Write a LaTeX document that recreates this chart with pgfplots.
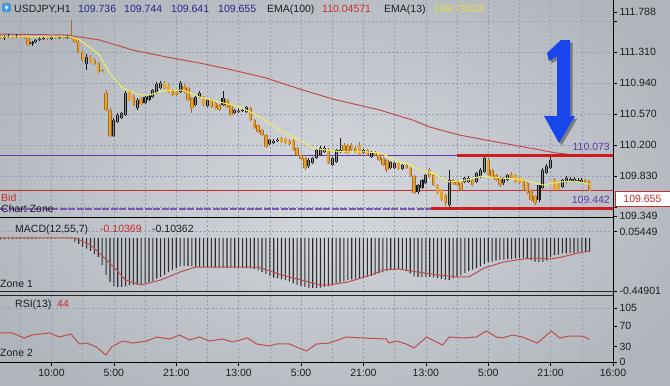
\documentclass[border=0pt]{standalone}
\usepackage{pgfplots}
\pgfplotsset{compat=1.18}
\usepackage{pgfplotstable}
\usepackage{fontspec}
\setmainfont{Liberation Sans}
\definecolor{bgin}{RGB}{214,217,222}
\definecolor{bgout}{RGB}{176,181,188}
\definecolor{gridc}{RGB}{150,160,176}
\definecolor{orng}{RGB}{232,162,52}
\definecolor{orngd}{RGB}{168,108,30}
\definecolor{bulld}{RGB}{25,25,25}
\definecolor{bullin}{RGB}{135,135,135}
\definecolor{emared}{RGB}{190,78,78}
\definecolor{emayel}{RGB}{240,240,95}
\definecolor{lvlpurp}{RGB}{96,58,168}
\definecolor{thickred}{RGB}{205,28,28}
\definecolor{txtblue}{RGB}{40,40,140}
\definecolor{txtred}{RGB}{200,45,45}
\definecolor{txtyel}{RGB}{225,225,60}
\definecolor{txtdark}{RGB}{30,30,35}
\definecolor{histc}{RGB}{45,45,45}
\definecolor{arrowblue}{RGB}{25,70,235}
\definecolor{iconblue}{RGB}{70,150,220}

\pgfplotstableread{
i lo hi bl bh
0 111.465 111.512 111.477 111.489
3 111.465 111.512 111.489 111.500
5 111.477 111.512 111.489 111.500
6 111.465 111.500 111.477 111.489
7 111.381 111.489 111.393 111.477
12 111.453 111.489 111.465 111.477
14 111.465 111.500 111.477 111.489
16 111.465 111.500 111.477 111.489
18 111.465 111.691 111.477 111.489
19 111.417 111.489 111.429 111.477
20 111.298 111.453 111.310 111.429
21 111.190 111.333 111.214 111.310
23 111.178 111.274 111.190 111.250
24 111.154 111.238 111.166 111.214
25 111.059 111.190 111.071 111.178
26 111.071 111.107 111.083 111.095
27 110.605 110.856 110.617 110.820
28 110.295 110.641 110.307 110.617
33 110.725 110.856 110.737 110.832
34 110.665 110.796 110.677 110.773
36 110.677 110.773 110.689 110.749
42 110.868 110.963 110.880 110.940
43 110.820 110.928 110.832 110.916
44 110.784 110.868 110.796 110.856
45 110.784 110.844 110.796 110.832
47 110.820 110.928 110.832 110.904
48 110.725 110.892 110.737 110.880
49 110.582 110.773 110.641 110.761
52 110.665 110.784 110.677 110.773
54 110.641 110.749 110.653 110.737
55 110.629 110.713 110.641 110.701
56 110.605 110.689 110.617 110.677
58 110.641 110.749 110.653 110.737
59 110.546 110.689 110.558 110.677
64 110.486 110.653 110.498 110.641
65 110.391 110.510 110.403 110.498
66 110.343 110.450 110.355 110.438
67 110.307 110.391 110.319 110.379
68 110.164 110.331 110.176 110.319
72 110.224 110.295 110.236 110.283
73 110.212 110.283 110.224 110.271
74 110.200 110.271 110.212 110.247
75 110.128 110.271 110.140 110.259
76 110.069 110.176 110.080 110.164
77 110.021 110.092 110.033 110.080
78 109.901 110.057 109.925 110.045
84 109.973 110.164 109.985 110.140
88 110.104 110.224 110.116 110.200
89 110.092 110.212 110.104 110.188
90 110.128 110.224 110.140 110.200
91 110.104 110.188 110.116 110.164
92 110.069 110.236 110.080 110.200
94 110.069 110.152 110.080 110.140
96 110.069 110.128 110.080 110.116
97 110.009 110.092 110.021 110.080
98 109.949 110.057 109.961 110.045
99 109.878 110.033 109.901 110.021
102 109.901 109.997 109.913 109.985
104 109.913 109.973 109.925 109.961
105 109.818 109.937 109.830 109.925
106 109.615 109.842 109.627 109.830
110 109.806 109.925 109.818 109.901
111 109.711 109.854 109.722 109.842
112 109.615 109.734 109.627 109.722
113 109.532 109.675 109.543 109.663
114 109.472 109.615 109.508 109.603
116 109.722 109.794 109.746 109.782
117 109.711 109.782 109.722 109.770
118 109.651 109.758 109.663 109.746
121 109.711 109.794 109.722 109.782
125 109.830 110.045 109.842 110.021
126 109.806 109.913 109.818 109.901
127 109.770 109.854 109.782 109.842
128 109.699 109.818 109.722 109.806
131 109.794 109.878 109.806 109.854
132 109.746 109.854 109.758 109.842
133 109.734 109.818 109.746 109.806
134 109.651 109.794 109.663 109.782
135 109.615 109.758 109.627 109.746
136 109.532 109.675 109.543 109.663
137 109.484 109.603 109.508 109.591
142 109.651 109.806 109.663 109.782
143 109.651 109.770 109.663 109.758
150 109.746 109.794 109.758 109.782
151 109.651 109.782 109.655 109.770
}\bear

\pgfplotstableread{
i lo hi bl bh
1 111.453 111.512 111.477 111.489
2 111.477 111.524 111.489 111.500
4 111.477 111.524 111.489 111.500
8 111.381 111.441 111.405 111.429
9 111.417 111.465 111.429 111.453
10 111.441 111.489 111.453 111.465
11 111.453 111.500 111.465 111.477
13 111.453 111.500 111.465 111.489
15 111.465 111.500 111.477 111.489
17 111.465 111.512 111.477 111.489
22 111.095 111.286 111.166 111.250
29 110.295 110.522 110.307 110.498
30 110.462 110.582 110.474 110.558
31 110.510 110.594 110.522 110.582
32 110.546 110.844 110.558 110.820
35 110.617 110.761 110.641 110.737
37 110.689 110.784 110.701 110.773
38 110.725 110.808 110.737 110.784
39 110.761 110.868 110.773 110.856
40 110.808 110.952 110.820 110.928
41 110.868 110.963 110.880 110.940
46 110.820 110.963 110.832 110.940
50 110.665 110.796 110.677 110.773
51 110.761 110.844 110.773 110.820
53 110.653 110.749 110.665 110.737
57 110.665 110.844 110.677 110.761
60 110.570 110.629 110.582 110.617
61 110.582 110.629 110.594 110.605
62 110.594 110.641 110.605 110.617
63 110.582 110.665 110.594 110.653
69 110.200 110.271 110.212 110.259
70 110.212 110.271 110.224 110.247
71 110.236 110.283 110.247 110.259
79 109.925 110.045 109.949 110.021
80 109.973 110.057 109.985 110.045
81 110.033 110.152 110.045 110.140
82 110.069 110.188 110.080 110.164
83 110.104 110.188 110.116 110.164
85 109.949 110.057 109.961 110.045
86 109.985 110.152 109.997 110.140
87 110.104 110.283 110.116 110.140
93 110.092 110.152 110.104 110.140
95 110.045 110.128 110.057 110.116
100 109.913 110.009 109.925 109.997
101 109.913 109.997 109.925 109.985
103 109.901 109.973 109.913 109.961
107 109.615 109.734 109.639 109.722
108 109.675 109.794 109.687 109.782
109 109.734 109.854 109.746 109.842
115 109.448 109.901 109.484 109.782
119 109.746 109.818 109.758 109.806
120 109.746 109.830 109.758 109.806
122 109.746 109.878 109.758 109.866
123 109.806 109.925 109.818 109.901
124 109.866 110.069 109.878 110.045
129 109.722 109.818 109.746 109.806
130 109.770 109.854 109.782 109.842
138 109.520 109.734 109.543 109.722
139 109.675 109.925 109.687 109.901
140 109.854 109.973 109.866 109.949
141 109.913 110.057 109.925 110.021
144 109.687 109.794 109.699 109.782
145 109.746 109.830 109.758 109.806
146 109.758 109.818 109.770 109.794
147 109.758 109.818 109.770 109.794
148 109.758 109.806 109.770 109.782
149 109.746 109.806 109.758 109.782
}\bull

\newcommand\f{\fontsize{10.5bp}{12bp}\selectfont}

\pgfplotsset{
  panel/.style={scale only axis, width=613bp, xmin=-0.2, xmax=157,
    axis line style={draw=none},
    xtick={13,29,45,61,77,93,109,125,141,157},
    minor xtick={5,21,37,53,69,85,101,117,133,149},
    xmajorgrids, xminorgrids, ymajorgrids,
    grid style={gridc, dash pattern=on 2bp off 2bp, line width=0.5bp},
    xticklabels={}, minor tick length=0pt,
    tick style={black, line width=0.6bp}, xtick style={draw=none},
    ytick pos=right, yticklabel pos=right, tick align=outside, major tick length=4bp,
    tick label style={font=\f, text=txtdark},
    yticklabel style={anchor=west, xshift=-1bp},
    extra y tick style={grid=none}},
  wick/.style={only marks, mark=none, mark size=0pt, mark options={draw=none, fill=none}, forget plot,
    error bars/.cd, y dir=plus, y explicit, error mark=none,
    error bar style={line width=0.8bp, color=#1}},
  body/.style 2 args={only marks, mark=none, mark size=0pt, mark options={draw=none, fill=none}, forget plot,
    error bars/.cd, y dir=plus, y explicit, error mark=none,
    error bar style={line width=#2, color=#1}}
}

\begin{document}
\begin{tikzpicture}
\useasboundingbox (0,0) rectangle (670bp,-386bp);
\shade[inner color=bgin, outer color=bgout] (-60bp,60bp) rectangle (730bp,-446bp);

% ---------- price panel ----------
\begin{axis}[panel, at={(0bp,0bp)}, anchor=north west, height=217bp,
  ymin=109.341, ymax=111.930,
  ytick={109.46,109.83,110.2,110.57,110.94,111.31,111.68},
  yticklabels={,109.830,110.200,110.570,110.940,111.310,},
  extra y ticks={109.349,111.788}, extra y tick labels={109.349,111.788}]
% level lines
\addplot[lvlpurp, line width=1.1bp, forget plot] coordinates {(-0.2,110.073) (157,110.073)};
\addplot[txtred, line width=0.9bp, forget plot] coordinates {(-0.2,109.655) (157,109.655)};
\addplot[lvlpurp!85, line width=2bp, dash pattern=on 7bp off 1.5bp, forget plot] coordinates {(-0.2,109.442) (110.4,109.442)};
% EMA(100)
\addplot[emared, line width=1bp, mark=none] coordinates {(-0.2,111.524) (16.8,111.512) (25.3,111.453) (33.8,111.333) (42.5,111.250) (51,111.178) (59.4,111.095) (68.1,110.999) (76.6,110.868) (85.1,110.749) (97.1,110.618) (105.6,110.498) (110,110.415) (117.6,110.319) (127.1,110.236) (135.6,110.164) (142.5,110.105) (151,110.06)};
% candles
\addplot[wick=orngd] table[x=i, y=lo, y error expr={\thisrow{hi}-\thisrow{lo}}] {\bear};
\addplot[wick=bulld] table[x=i, y=lo, y error expr={\thisrow{hi}-\thisrow{lo}}] {\bull};
\addplot[body={orngd}{3.4bp}] table[x=i, y=bl, y error expr={\thisrow{bh}-\thisrow{bl}}] {\bear};
\addplot[body={orng}{2.2bp}] table[x=i, y=bl, y error expr={\thisrow{bh}-\thisrow{bl}}] {\bear};
\addplot[body={bulld}{3.2bp}] table[x=i, y=bl, y error expr={\thisrow{bh}-\thisrow{bl}}] {\bull};
\addplot[body={bullin}{1bp}] table[x=i, y=bl, y error expr={\thisrow{bh}-\thisrow{bl}}] {\bull};
% EMA(13)
\addplot[emayel, line width=1bp, mark=none] coordinates {(-0.2,111.489) (18.1,111.489) (20.2,111.453) (22.7,111.369) (25.3,111.274) (27.9,111.059) (31.2,110.880) (35.6,110.797) (38.1,110.797) (40.7,110.833) (44,110.856) (46.6,110.856) (51,110.773) (56.1,110.713) (61.2,110.653) (64.5,110.582) (68.1,110.486) (72.2,110.355) (76.6,110.260) (79.9,110.164) (85.1,110.128) (89.4,110.117) (93.8,110.117) (97.1,110.105) (99.7,110.057) (102.2,109.997) (104.8,109.973) (107.4,109.902) (110.7,109.866) (115,109.758) (119.4,109.782) (123.5,109.830) (127.9,109.806) (133,109.794) (138.9,109.722) (143.3,109.758) (147.1,109.770) (151,109.732)};
% thick red zone lines
\addplot[thickred, line width=3.5bp, forget plot] coordinates {(117.1,110.073) (157,110.073)};
\addplot[thickred, line width=3.5bp, forget plot] coordinates {(110.4,109.442) (157,109.442)};
\end{axis}

% ---------- MACD panel ----------
\begin{axis}[panel, at={(0bp,-219bp)}, anchor=north west, height=72bp,
  ymin=-0.44901, ymax=0.1608,
  ytick={0.05449}, yticklabels={0.05449},
  extra y ticks={-0.44901}, extra y tick labels={-0.44901}]
\addplot[ybar, bar width=1.1bp, fill=histc, draw=none] coordinates {(0,-0.012) (1,-0.012) (2,-0.010) (3,-0.010) (4,-0.008) (5,-0.008) (6,-0.008) (7,-0.010) (8,-0.010) (9,-0.008) (10,-0.004) (11,-0.004) (12,-0.003) (13,-0.003) (14,-0.003) (15,-0.003) (16,-0.003) (17,-0.003) (18,-0.005) (19,-0.030) (20,-0.050) (21,-0.076) (22,-0.090) (23,-0.110) (24,-0.135) (25,-0.160) (26,-0.229) (27,-0.313) (28,-0.373) (29,-0.405) (30,-0.415) (31,-0.415) (32,-0.410) (33,-0.400) (34,-0.398) (35,-0.395) (36,-0.390) (37,-0.383) (38,-0.373) (39,-0.365) (40,-0.345) (41,-0.330) (42,-0.313) (43,-0.290) (44,-0.271) (45,-0.255) (46,-0.240) (47,-0.237) (48,-0.237) (49,-0.240) (50,-0.245) (51,-0.246) (52,-0.246) (53,-0.248) (54,-0.250) (55,-0.250) (56,-0.252) (57,-0.250) (58,-0.254) (59,-0.254) (60,-0.256) (61,-0.256) (62,-0.254) (63,-0.256) (64,-0.258) (65,-0.262) (66,-0.275) (67,-0.290) (68,-0.305) (69,-0.320) (70,-0.335) (71,-0.342) (72,-0.350) (73,-0.358) (74,-0.370) (75,-0.385) (76,-0.398) (77,-0.405) (78,-0.415) (79,-0.424) (80,-0.424) (81,-0.424) (82,-0.420) (83,-0.415) (84,-0.410) (85,-0.400) (86,-0.385) (87,-0.375) (88,-0.365) (89,-0.356) (90,-0.350) (91,-0.345) (92,-0.340) (93,-0.338) (94,-0.330) (95,-0.320) (96,-0.310) (97,-0.300) (98,-0.290) (99,-0.280) (100,-0.272) (101,-0.265) (102,-0.263) (103,-0.268) (104,-0.280) (105,-0.300) (106,-0.325) (107,-0.330) (108,-0.330) (109,-0.330) (110,-0.330) (111,-0.333) (112,-0.340) (113,-0.347) (114,-0.352) (115,-0.356) (116,-0.345) (117,-0.330) (118,-0.315) (119,-0.296) (120,-0.280) (121,-0.268) (122,-0.255) (123,-0.240) (124,-0.220) (125,-0.205) (126,-0.200) (127,-0.190) (128,-0.186) (129,-0.184) (130,-0.180) (131,-0.178) (132,-0.172) (133,-0.170) (134,-0.168) (135,-0.175) (136,-0.190) (137,-0.200) (138,-0.205) (139,-0.203) (140,-0.190) (141,-0.160) (142,-0.145) (143,-0.140) (144,-0.130) (145,-0.130) (146,-0.127) (147,-0.125) (148,-0.122) (149,-0.120) (150,-0.119) (151,-0.116)};
\addplot[emared, line width=1bp, mark=none] coordinates {(-0.2,0) (19,0) (23,-0.059) (25,-0.119) (29,-0.246) (32,-0.356) (36,-0.398) (41,-0.356) (46,-0.288) (50,-0.246) (56,-0.246) (66,-0.246) (72,-0.313) (77,-0.356) (82,-0.398) (84,-0.398) (89,-0.373) (95,-0.313) (98,-0.271) (102,-0.263) (107,-0.288) (112,-0.313) (117,-0.330) (120,-0.330) (124,-0.254) (129,-0.203) (134,-0.178) (137,-0.169) (141,-0.178) (144,-0.161) (148,-0.127) (151,-0.110)};
\end{axis}

% ---------- RSI panel ----------
\begin{axis}[panel, at={(0bp,-296bp)}, anchor=north west, height=66bp,
  ymin=0, ymax=128.3,
  ytick={105}, yticklabels={105},
  extra y ticks={0,30,70}, extra y tick labels={0,30,70},
  xticklabels={10:00,5:00,21:00,13:00,5:00,21:00,13:00,5:00,21:00,16:00},
  xtick style={draw=black}, xtick pos=bottom]
\addplot[emared, line width=1bp, mark=none] coordinates {(-0.2,56.4) (3,56.4) (6,46.7) (8,52.5) (12.5,56.4) (15,48.6) (18,54.4) (20.2,35.0) (22,36.9) (24.5,29.2) (27,13.6) (28.4,29.2) (31.2,40.8) (33.8,36.9) (37.4,40.8) (40,48.6) (43.3,44.7) (45.8,52.5) (48.4,42.8) (51,48.6) (53.5,40.8) (56.9,44.7) (59.4,38.9) (63.3,46.7) (65.6,35.0) (69,31.1) (70.7,35.0) (74,35.0) (78.4,21.4) (81,35.0) (84.3,36.9) (88.6,48.6) (92.7,46.7) (98.9,44.7) (99.5,36.9) (101.5,40.8) (104,35.0) (106,27.2) (109.2,48.6) (113.3,33.0) (115,48.6) (118.4,46.7) (122,48.6) (124.5,60.3) (127.1,48.6) (128.6,46.7) (131.2,52.5) (133.8,48.6) (135.6,42.8) (137.6,36.9) (141.2,60.3) (143.3,46.7) (145.8,50.5) (149.2,50.5) (151,44)};
\end{axis}

% ---------- frame ----------
\draw[black, line width=1.5bp] (0,-217.5bp) -- (613bp,-217.5bp);
\draw[black!85, line width=1.2bp] (0,-291.5bp) -- (613bp,-291.5bp);
\draw[black!85, line width=1.2bp] (0,-295.5bp) -- (613bp,-295.5bp);
\draw[black, line width=1bp] (0,-362bp) -- (613bp,-362bp);
\draw[black, line width=1bp] (613bp,0) -- (613bp,-362bp);

% ---------- header texts ----------
\fill[iconblue, rounded corners=1.5bp] (2bp,-3bp) rectangle (11bp,-12bp);
\fill[white] (4.5bp,-6.5bp) -- (8.5bp,-6.5bp) -- (6.5bp,-10bp) -- cycle;
\fill[white] (5.8bp,-4.5bp) rectangle (7.2bp,-7bp);
\node[anchor=base west, inner sep=0, text=txtdark] at (14bp,-12bp) {\f USDJPY,H1};
\node[anchor=base west, inner sep=0, text=txtblue] at (78bp,-12bp) {\f 109.736};
\node[anchor=base west, inner sep=0, text=txtblue] at (124bp,-12bp) {\f 109.744};
\node[anchor=base west, inner sep=0, text=txtblue] at (171bp,-12bp) {\f 109.641};
\node[anchor=base west, inner sep=0, text=txtblue] at (218bp,-12bp) {\f 109.655};
\node[anchor=base west, inner sep=0, text=txtdark] at (267bp,-12bp) {\f EMA(100)};
\node[anchor=base west, inner sep=0, text=txtred] at (322bp,-12bp) {\f 110.04571};
\node[anchor=base west, inner sep=0, text=txtdark] at (384bp,-12bp) {\f EMA(13)};
\node[anchor=base west, inner sep=0, text=txtyel] at (434bp,-12bp) {\f 109.73223};

\node[anchor=base west, inner sep=0, text=txtred] at (1bp,-201bp) {\f Bid};
\node[anchor=base west, inner sep=0, text=txtdark] at (1bp,-212bp) {\f Chart Zone};
\node[anchor=base east, inner sep=0, text=lvlpurp] at (610bp,-150bp) {\f 110.073};
\node[anchor=base east, inner sep=0, text=lvlpurp] at (610bp,-203bp) {\f 109.442};
\node[anchor=west, draw=txtred, line width=0.8bp, fill=white, text=txtred, inner sep=0, minimum width=55bp, minimum height=15bp] at (614.5bp,-199bp) {\f 109.655};

\node[anchor=base west, inner sep=0, text=txtdark] at (15bp,-232bp) {\f MACD(12,55,7)};
\node[anchor=base west, inner sep=0, text=txtred] at (100bp,-232bp) {\f -0.10369};
\node[anchor=base west, inner sep=0, text=txtdark] at (152bp,-232bp) {\f -0.10362};
\node[anchor=base west, inner sep=0, text=txtdark] at (0bp,-287bp) {\f Zone 1};
\node[anchor=base west, inner sep=0, text=txtdark] at (15bp,-307bp) {\f RSI(13)};
\node[anchor=base west, inner sep=0, text=txtred] at (57bp,-307bp) {\f 44};
\node[anchor=base west, inner sep=0, text=txtdark] at (0bp,-356bp) {\f Zone 2};

% ---------- blue arrow "1" ----------
\begin{scope}[shift={(2.5bp,-2.5bp)}]
\fill[black, opacity=0.35] (561bp,-40bp) -- (570bp,-40bp) -- (570bp,-116bp) -- (575bp,-116bp) -- (559bp,-143bp) -- (544bp,-116bp) -- (557bp,-116bp) -- (557bp,-56bp) -- (549bp,-61bp) -- (547bp,-53bp) -- cycle;
\end{scope}
\fill[arrowblue] (561bp,-40bp) -- (570bp,-40bp) -- (570bp,-116bp) -- (575bp,-116bp) -- (559bp,-143bp) -- (544bp,-116bp) -- (557bp,-116bp) -- (557bp,-56bp) -- (549bp,-61bp) -- (547bp,-53bp) -- cycle;
\end{tikzpicture}
\end{document}
